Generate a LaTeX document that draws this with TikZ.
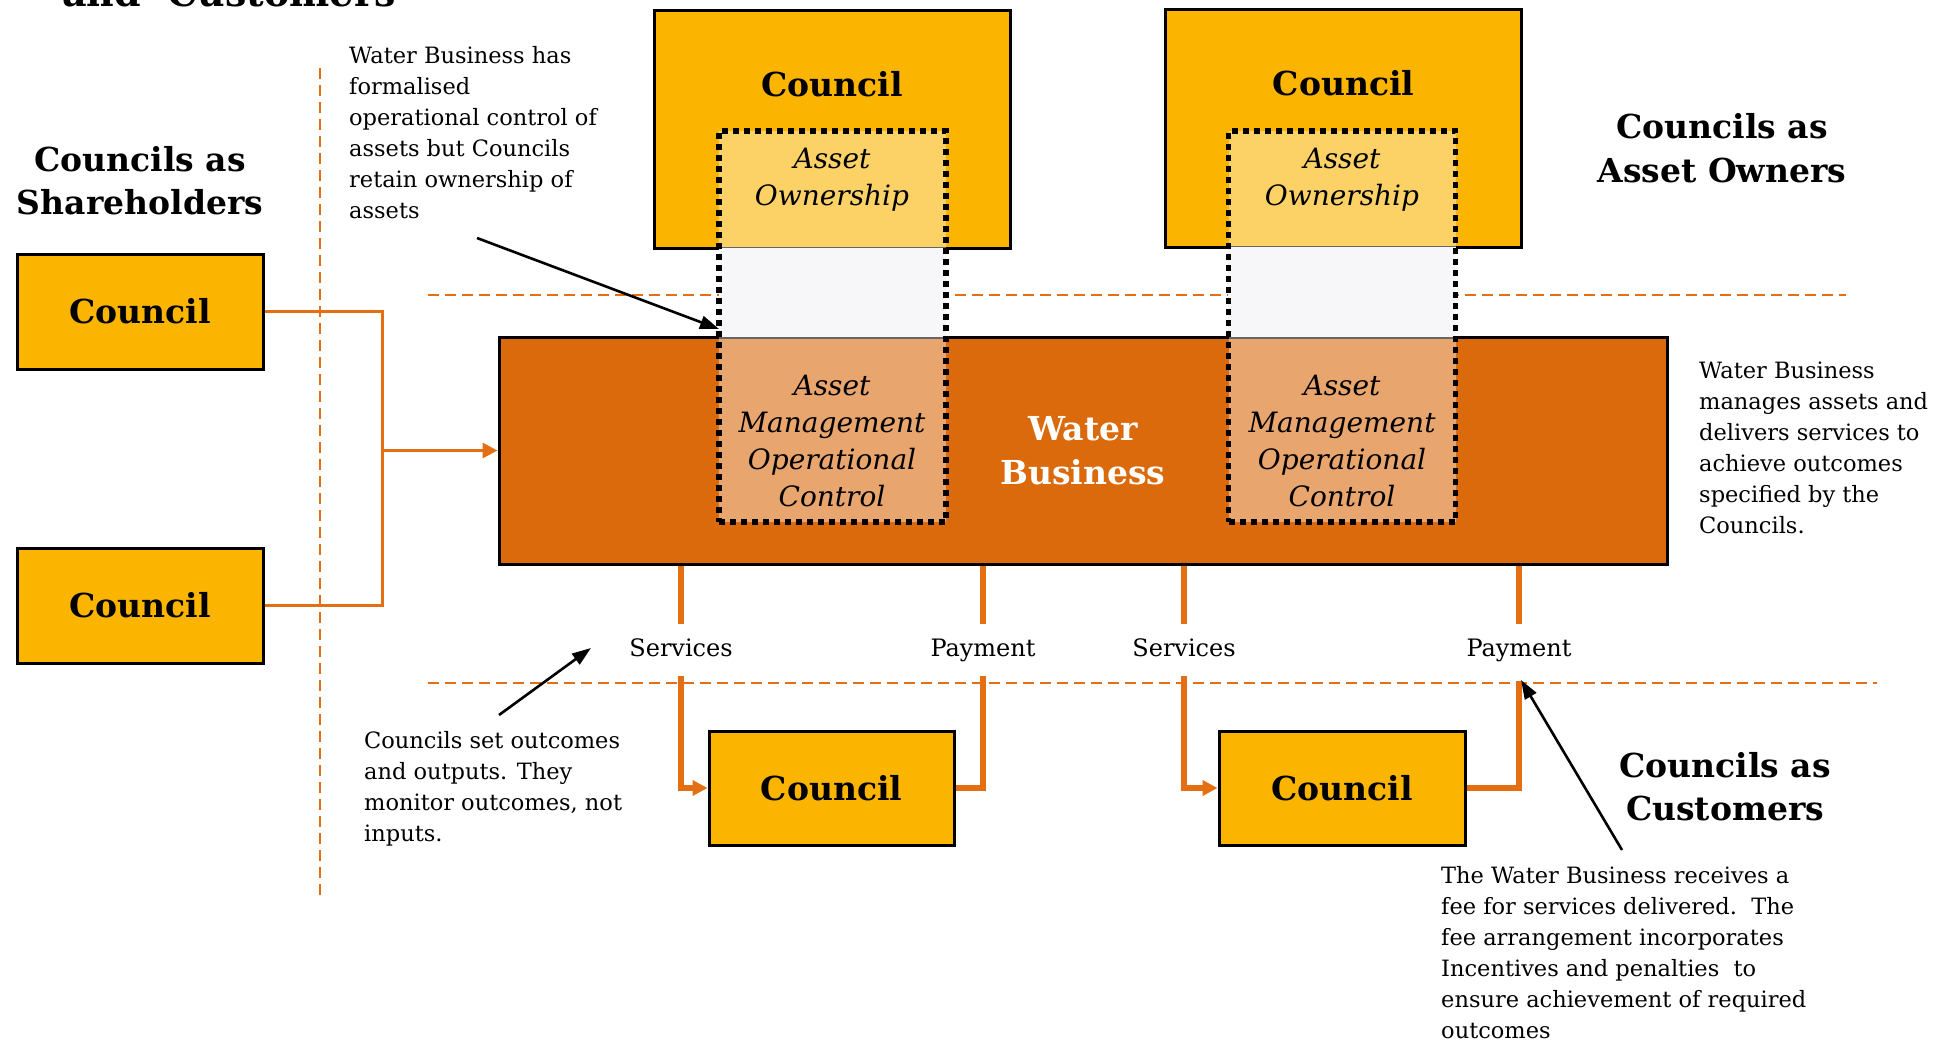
\documentclass[tikz,border=0pt]{standalone}
\usepackage{fontspec}
\setmainfont{DejaVu Serif}
\usetikzlibrary{arrows.meta}

\definecolor{gold}{RGB}{251,180,0}
\definecolor{rust}{RGB}{218,106,12}
\definecolor{wire}{RGB}{228,110,18}
\definecolor{gapgrey}{RGB}{243,243,246}

\newcommand\hdfont{\bfseries\fontsize{33}{43.4}\selectfont}
\newcommand\ntfont{\fontsize{22.5}{31}\selectfont}
\newcommand\aofont{\itshape\fontsize{28}{37}\selectfont}
\newcommand\lbfont{\fontsize{24}{28}\selectfont}

\begin{document}
\begin{tikzpicture}[x=1pt,y=-1pt,
  box/.style={draw=black,line width=3pt,inner sep=0pt},
  smallcouncil/.style={box,fill=gold,minimum width=246pt,minimum height=115pt,font=\hdfont},
  bigcouncil/.style={box,fill=gold,minimum width=356pt,minimum height=238pt},
  waterbox/.style={box,fill=rust,minimum width=1168pt,minimum height=227pt,
    font=\hdfont,text=white,align=center},
  ownbox/.style={draw=black,line width=5.5pt,dash pattern=on 6pt off 5pt,
    fill=white,fill opacity=0.4,draw opacity=1,inner sep=0pt,
    minimum width=227pt,minimum height=391pt},
  heading/.style={font=\hdfont,align=center,inner sep=0pt},
  note/.style={font=\ntfont,align=left,anchor=north west,inner sep=0pt},
  roletext/.style={font=\aofont,align=center,inner sep=0pt},
  flowlabel/.style={font=\lbfont,text height=17pt,text depth=5pt,
    inner xsep=0pt,inner ysep=15pt},
  divider/.style={wire,line width=2.6pt,dash pattern=on 11pt off 6pt},
  thinwire/.style={wire,line width=3pt},
  thickwire/.style={wire,line width=5.5pt},
  wiretip/.style={-{Triangle[length=15pt,width=15pt]}},
  pointer/.style={black,line width=2.6pt,-{Triangle[length=19pt,width=13pt]}}
]
\useasboundingbox (0,0) rectangle (1943,1042);
\fill[white] (0,0) rectangle (1943,1042);

% heading running off the top edge
\begin{scope}
  \clip (0,0) rectangle (1943,1042);
  \node[anchor=base west,inner sep=0pt,font=\bfseries\fontsize{38}{40}\selectfont] (toptitle) at (62,6) {and\ \ Customers};
\end{scope}

% dashed dividers between the three roles
\draw[divider] (320,68) -- (320,898);
\draw[divider] (428,295) -- (1846,295);
\draw[divider] (428,683) -- (1877,683);

% councils as shareholders
\node[heading] (hshare) at (140,180.5) {Councils as\\Shareholders};
\node[smallcouncil] (sh1) at (140,311.5) {Council};
\node[smallcouncil] (sh2) at (140,605.5) {Council};

% councils as asset owners
\node[bigcouncil] (tc1) at (832,129) {};
\node[bigcouncil] (tc2) at (1343.5,128) {};
\node[heading] (tc1txt) at (832,84) {Council};
\node[heading] (tc2txt) at (1343.5,83) {Council};
\node[heading] (hown) at (1722,148) {Councils as\\Asset Owners};

% the water business
\node[waterbox] (wb) at (1083,450.5) {Water\\Business};

% light band where the ownership frames cross the gap
\fill[gapgrey] (719,248) rectangle (946,337);
\fill[gapgrey] (1228,247) rectangle (1456,337);

% dotted frames linking ownership and operational control
\node[ownbox] (ob1) at (832.5,326.5) {};
\node[ownbox] (ob2) at (1342,326.5) {};
\node[roletext] (own1) at (832,180) {Asset\\Ownership};
\node[roletext] (own2) at (1342,180) {Asset\\Ownership};
\node[roletext] (ctl1) at (832,441) {Asset\\Management\\Operational\\Control};
\node[roletext] (ctl2) at (1342,441) {Asset\\Management\\Operational\\Control};

% councils as customers
\node[smallcouncil,minimum width=245pt,minimum height=114pt] (bc1) at (831.5,788) {Council};
\node[smallcouncil,minimum width=246pt,minimum height=114pt] (bc2) at (1342,788) {Council};
\node[heading] (hcust) at (1725,786.5) {Councils as\\Customers};

% shareholder links into the water business
\coordinate (join) at (382,450.5);
\draw[thinwire] (sh1.east) -| (join) |- (sh2.east);
\draw[thinwire,wiretip] (join) -- (wb.west);

% services and payments
\node[flowlabel] (sv1) at (681,650) {Services};
\node[flowlabel] (pay1) at (983,650) {Payment};
\node[flowlabel] (sv2) at (1184,650) {Services};
\node[flowlabel] (pay2) at (1519,650) {Payment};

\draw[thickwire] (wb.south -| sv1) -- (sv1.north);
\draw[thickwire,wiretip] (sv1.south) |- (bc1.west);
\draw[thickwire] (wb.south -| pay1) -- (pay1.north);
\draw[thickwire] (bc1.east) -| (pay1.south);
\draw[thickwire] (wb.south -| sv2) -- (sv2.north);
\draw[thickwire,wiretip] (sv2.south) |- (bc2.west);
\draw[thickwire] (wb.south -| pay2) -- (pay2.north);
\draw[thickwire] (bc2.east) -| ([yshift=-5pt]pay2.south);

% explanatory notes
\node[note] (n1) at (349,46) {Water Business has\\formalised\\operational control of\\assets but Councils\\retain ownership of\\assets};
\node[note] (n2) at (364,731) {Councils set outcomes\\and outputs. They\\monitor outcomes, not\\inputs.};
\node[note] (n3) at (1699,362) {Water Business\\manages assets and\\delivers services to\\achieve outcomes\\specified by the\\Councils.};
\node[note] (n4) at (1441,866) {The Water Business receives a\\fee for services delivered.\ \ The\\fee arrangement incorporates\\Incentives and penalties\ \ to\\ensure achievement of required\\outcomes};

% pointers from the notes
\coordinate (p1from) at (477,238);
\coordinate (p1to) at (719,329);
\draw[pointer] (p1from) -- (p1to);
\coordinate (p2from) at (499,715);
\coordinate (p2to) at (591,648);
\draw[pointer] (p2from) -- (p2to);
\coordinate (p3from) at (1622,850);
\coordinate (p3to) at (1521,680);
\draw[pointer] (p3from) -- (p3to);
\end{tikzpicture}
\end{document}
